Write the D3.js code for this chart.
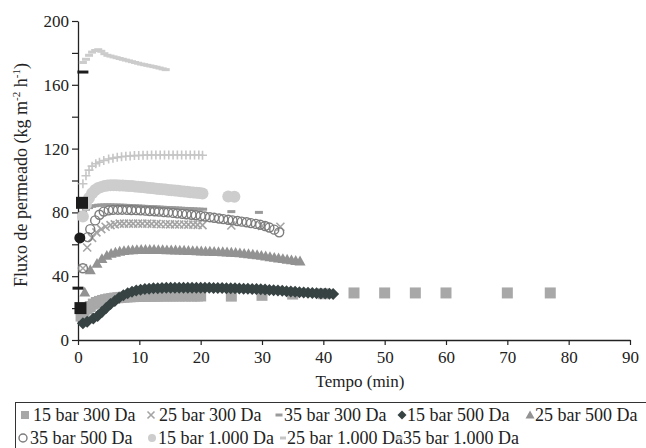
<!DOCTYPE html>
<html>
<head>
<meta charset="utf-8">
<script src="https://cdn.jsdelivr.net/npm/d3@7"></script>
<style>
  body { margin: 0; background: #fff; }
  svg text { font-family: "Liberation Serif", "Times New Roman", serif; fill: #222; }
</style>
</head>
<body>
<div id="chart"></div>
<script>
// tempo (min) and flux (kg m-2 h-1)
var t15_300 = [0.5,1,1.5,2,2.5,3,3.5,4,4.5,5,5.5,6,6.5,7,7.5,8,8.5,9,9.5,10,10.5,11,11.5,12,12.5,13,13.5,14,14.5,15,15.5,16,16.5,17,17.5,18,18.5,19,19.5,20,25,30,35,40,45,50,55,60,70,77]
  , f15_300 = [15,17.5,19.5,21,22.5,23.5,24.2,24.8,25.3,25.7,26,26.3,26.5,26.7,26.9,27,27.1,27.2,27.3,27.3,27.4,27.4,27.5,27.5,27.5,27.5,27.6,27.6,27.6,27.6,27.6,27.7,27.6,27.7,27.6,27.7,27.6,27.7,27.6,27.6,27.5,28,28.8,29,29.5,29.5,29.5,29.5,29.5,29.5]
  , t25_300 = [0.8,1.5,2.3,3,3.8,4.5,5.3,6,6.8,7.5,8.3,9,9.8,10.5,11.3,12,12.8,13.5,14.3,15,15.8,16.5,17.3,18,18.8,19.5,20.3,25,30,33]
  , f25_300 = [45,58,64,67.5,69.5,71,72,72.5,73,73,73,73,73,73,73,72.8,72.8,72.6,72.6,72.5,72.5,72.4,72.4,72.3,72.3,72.2,72,71.8,71.5,71]
  , t35_300 = [0.8,1.3,1.8,2.3,2.8,3.3,3.8,4.3,4.8,5.3,5.8,6.3,6.8,7.3,7.8,8.3,8.8,9.3,9.8,10.3,10.8,11.3,11.8,12.3,12.8,13.3,13.8,14.3,14.8,15.3,15.8,16.3,16.8,17.3,17.8,18.3,18.8,19.3,19.8,20.4,25,29.5]
  , f35_300 = [80,82,83,83.8,84.2,84.5,84.6,84.7,84.7,84.7,84.6,84.6,84.5,84.5,84.4,84.3,84.2,84.1,84,83.9,83.8,83.7,83.6,83.5,83.4,83.3,83.2,83.1,83,82.9,82.8,82.7,82.6,82.5,82.4,82.3,82.2,82.1,82,82,80.5,80]
  , t15_500 = [0.8,1.5,2.5,3.2,3.9,4.6,5.3,6,6.7,7.4,8.1,8.8,9.5,10.2,10.9,11.6,12.3,13,13.7,14.4,15.1,15.8,16.5,17.2,17.9,18.6,19.3,20,20.7,21.4,22.1,22.8,23.5,24.2,24.9,25.6,26.3,27,27.7,28.4,29.1,29.8,30.5,31.2,31.9,32.6,33.3,34,34.7,35.4,36.1,36.8,37.5,38.2,38.9,39.6,40.3,41,41.6]
  , f15_500 = [10.5,11.5,13.5,15,17.5,20,22.5,24.5,26.5,28,29.3,30.3,31,31.5,31.9,32.2,32.4,32.5,32.6,32.7,32.7,32.8,32.8,32.8,32.8,32.8,32.8,32.7,32.7,32.7,32.6,32.6,32.6,32.5,32.5,32.4,32.3,32.2,32.1,32,31.9,31.8,31.6,31.4,31.2,31,30.8,30.6,30.4,30.2,30,29.8,29.6,29.5,29.3,29.2,29.1,29,28.8]
  , t25_500 = [1.1,2,3.1,3.9,4.7,5.4,6.1,6.8,7.5,8.2,8.9,9.6,10.3,11,11.7,12.4,13.1,13.8,14.5,15.2,15.9,16.6,17.3,18,18.7,19.4,20.1,20.8,21.5,22.2,22.9,23.6,24.3,25,25.7,26.4,27.1,27.8,28.5,29.2,29.9,30.6,31.3,32,32.7,33.4,34.1,34.8,35.5,36.2]
  , f25_500 = [30,44,48,51,53,54.3,55,55.6,56,56.3,56.5,56.6,56.7,56.7,56.7,56.7,56.6,56.6,56.5,56.5,56.4,56.3,56.2,56.1,56,55.9,55.8,55.7,55.6,55.5,55.4,55.3,55.1,55,54.8,54.6,54.3,54,53.7,53.4,53,52.6,52.2,51.8,51.4,51,50.6,50.2,49.8,49.5]
  , t35_500 = [0.8,1.6,2,2.8,3.5,4.2,5,5.7,6.5,7.2,8,8.7,9.5,10.2,11,11.7,12.5,13.2,14,14.7,15.5,16.2,17,17.7,18.5,19.2,20,20.7,21.5,22.2,23,23.7,24.5,25.2,26,26.7,27.5,28.2,29,29.7,30.5,31.2,32,32.8]
  , f35_500 = [45,64.5,69.5,75,78.5,80.5,81.3,81.6,81.7,81.7,81.6,81.5,81.4,81.3,81.1,80.9,80.7,80.5,80.2,80,79.7,79.4,79.1,78.8,78.5,78.2,77.8,77.4,77,76.6,76.2,75.8,75.4,75,74.6,74.2,73.8,73.3,72.8,72.3,71.5,70.5,69.2,67.5]
  , t15_1000 = [0.8,1.3,1.8,2.3,2.8,3.3,3.8,4.3,4.8,5.3,5.8,6.3,6.8,7.3,7.8,8.3,8.8,9.3,9.8,10.3,10.8,11.3,11.8,12.3,12.8,13.3,13.8,14.3,14.8,15.3,15.8,16.3,16.8,17.3,17.8,18.3,18.8,19.3,19.8,20.3,24.5,25.5]
  , f15_1000 = [77.5,85,89,92,94,95.3,96,96.5,96.8,97,97,97,96.9,96.8,96.7,96.6,96.5,96.3,96.1,95.9,95.7,95.5,95.3,95.1,94.9,94.7,94.5,94.3,94.1,93.9,93.7,93.5,93.3,93.1,92.9,92.7,92.5,92.3,92.1,91.9,90,89.8]
  , t25_1000 = [0.8,1.3,1.8,2.3,2.9,3.5,4.2,5,5.7,6.4,7.1,7.8,8.5,9.2,9.9,10.6,11.3,12,12.7,13.4,14.1,14.8,15.5,16.2,16.9,17.6,18.3,19,19.7,20.3]
  , f25_1000 = [98,103,106.5,109,110.5,111.5,112.5,113.5,114,114.5,114.9,115.2,115.4,115.6,115.7,115.8,115.9,116,116,116,116,116,116,116,116,116,116,116,116,115.8]
  , t35_1000 = [0.8,1.3,1.8,2.3,2.8,3.3,3.8,4.3,4.8,5.3,5.8,6.3,6.8,7.3,7.8,8.3,8.8,9.3,9.8,10.3,10.8,11.3,11.8,12.3,12.8,13.3,13.8,14.3]
  , f35_1000 = [174,176,178.5,180.5,181.5,182,181,179.5,178.5,178,177.5,177,176.5,176,175.5,175,174.5,174,173.5,173,172.6,172.2,171.8,171.4,171,170.5,170,169.5]
  // black points at the start of the runs (not in the legend)
  , tStart = [0.8,0.65,0.3,0,0.4]
  , fStart = [168,86,64,32.5,20]
  , shapeStart = ["dash","square","circle","dash","square"]
  , xTicks = [0,10,20,30,40,50,60,70,80,90]
  , yTicks = [0,20,40,60,80,100,120,140,160,180,200]
  ;

var series = [
    { name: "15 bar 300 Da",   t: t15_300,  f: f15_300,  shape: "square",   size: 11, color: "#a8a8a8", lsize: 8 }
  , { name: "25 bar 300 Da",   t: t25_300,  f: f25_300,  shape: "cross",    size: 8,  color: "#a4a4a4", lsize: 7 }
  , { name: "35 bar 300 Da",   t: t35_300,  f: f35_300,  shape: "dash",     size: 8,  color: "#9a9a9a", lsize: 7 }
  , { name: "15 bar 500 Da",   t: t15_500,  f: f15_500,  shape: "diamond",  size: 12, color: "#374242", lsize: 9 }
  , { name: "25 bar 500 Da",   t: t25_500,  f: f25_500,  shape: "triangle", size: 11, color: "#929292", lsize: 9 }
  , { name: "35 bar 500 Da",   t: t35_500,  f: f35_500,  shape: "ring",     size: 9,  color: "#7c7c7c", lsize: 8 }
  , { name: "15 bar 1.000 Da", t: t15_1000, f: f15_1000, shape: "circle",   size: 12, color: "#cdcdcd", lsize: 8 }
  , { name: "25 bar 1.000 Da", t: t25_1000, f: f25_1000, shape: "plus",     size: 9,  color: "#c6c6c6", lsize: 6 }
  , { name: "35 bar 1.000 Da", t: t35_1000, f: f35_1000, shape: "dash",     size: 8,  color: "#cccccc", lsize: 7 }
];

// legend layout (marker centre x, text x, row)
var legendPos = [[25,33,0],[151,159,0],[279,284,0],[402,407,0],[530,535,0],
                 [23,30,1],[152,158,1],[283,287,1],[399,403,1]];

var W = 646, H = 448
  , x = d3.scaleLinear().domain([0, 90]).range([78, 630])
  , y = d3.scaleLinear().domain([0, 200]).range([340, 21])
  , svg = d3.select("#chart").append("svg").attr("width", W).attr("height", H)
  ;

function markerPath(shape, s) {
  var h = s / 2;
  switch (shape) {
    case "square":   return "M" + -h + "," + -h + "h" + s + "v" + s + "h" + -s + "Z";
    case "diamond":  return "M0," + -h + "L" + h + ",0L0," + h + "L" + -h + ",0Z";
    case "triangle": return "M0," + (-h) + "L" + h + "," + (h * 0.8) + "L" + -h + "," + (h * 0.8) + "Z";
    case "cross":    return "M" + -h + "," + -h + "L" + h + "," + h + "M" + -h + "," + h + "L" + h + "," + -h;
    case "plus":     return "M" + -h + ",0H" + h + "M0," + -h + "V" + h;
    case "dash":     return "M" + -h + ",-1.5h" + s + "v3h" + -s + "Z";
    default:         return "M" + h + ",0A" + h + "," + h + " 0 1,1 " + -h + ",0A" + h + "," + h + " 0 1,1 " + h + ",0Z";
  }
}

function styleMarker(sel, shape, color) {
  var stroked = shape === "cross" || shape === "plus" || shape === "ring";
  sel.attr("fill", stroked ? "none" : color)
     .attr("stroke", stroked ? color : "none")
     .attr("stroke-width", shape === "ring" ? 1.4 : 1.6);
}

// axes
var yAxis = d3.axisLeft(y).tickValues(yTicks).tickSize(6).tickSizeOuter(0).tickPadding(3)
      .tickFormat(function (d) { return d % 40 === 0 ? d : ""; })
  , xAxis = d3.axisBottom(x).tickValues(xTicks).tickSize(5).tickSizeOuter(0).tickPadding(6)
  ;

var gy = svg.append("g").attr("transform", "translate(78,0)").call(yAxis)
  , gx = svg.append("g").attr("transform", "translate(0,340)").call(xAxis)
  ;

[gx, gy].forEach(function (g) {
  g.select(".domain").attr("stroke", "#222").attr("stroke-width", 1.3);
  g.selectAll(".tick line").attr("stroke", "#222").attr("stroke-width", 1.2);
  g.selectAll(".tick text").attr("font-family", "Liberation Serif").attr("font-size", 17).attr("fill", "#222");
});

// series, in legend order (later ones on top)
series.forEach(function (s) {
  svg.append("g").selectAll("path")
    .data(d3.zip(s.t, s.f))
    .enter().append("path")
      .attr("transform", function (d) { return "translate(" + x(d[0]) + "," + y(d[1]) + ")"; })
      .attr("d", markerPath(s.shape, s.size))
      .call(styleMarker, s.shape, s.color);
});

svg.append("g").selectAll("path")
  .data(d3.zip(tStart, fStart, shapeStart))
  .enter().append("path")
    .attr("transform", function (d) { return "translate(" + x(d[0]) + "," + y(d[1]) + ")"; })
    .attr("d", function (d) { return markerPath(d[2], d[2] === "square" ? 12 : 11); })
    .attr("fill", "#1c1c1c");

// axis titles
svg.append("text")
  .attr("x", 360).attr("y", 387)
  .attr("text-anchor", "middle").attr("font-size", 17)
  .text("Tempo (min)");

var yt = svg.append("text")
  .attr("transform", "translate(27,175) rotate(-90)")
  .attr("text-anchor", "middle").attr("font-size", 18);
yt.append("tspan").text("Fluxo de permeado (kg m");
yt.append("tspan").attr("font-size", 11).attr("dy", -7).text("-2");
yt.append("tspan").attr("dy", 7).text(" h");
yt.append("tspan").attr("font-size", 11).attr("dy", -7).text("-1");
yt.append("tspan").attr("dy", 7).text(")");

// legend
svg.append("rect")
  .attr("x", 15.5).attr("y", 402.5).attr("width", 700).attr("height", 80)
  .attr("fill", "none").attr("stroke", "#333").attr("stroke-width", 1);

var items = svg.append("g").selectAll("g")
  .data(series)
  .enter().append("g")
    .attr("transform", function (d, i) { return "translate(0," + (415 + legendPos[i][2] * 23) + ")"; });

items.append("path")
  .attr("transform", function (d, i) { return "translate(" + legendPos[i][0] + ",0)"; })
  .attr("d", function (d) { return markerPath(d.shape === "plus" ? "dash" : d.shape, d.lsize); })
  .each(function (d) { styleMarker(d3.select(this), d.shape === "plus" ? "dash" : d.shape, d.color); });

items.append("text")
  .attr("x", function (d, i) { return legendPos[i][1]; })
  .attr("y", 6)
  .attr("font-size", 18)
  .text(function (d) { return d.name; });
</script>
</body>
</html>
